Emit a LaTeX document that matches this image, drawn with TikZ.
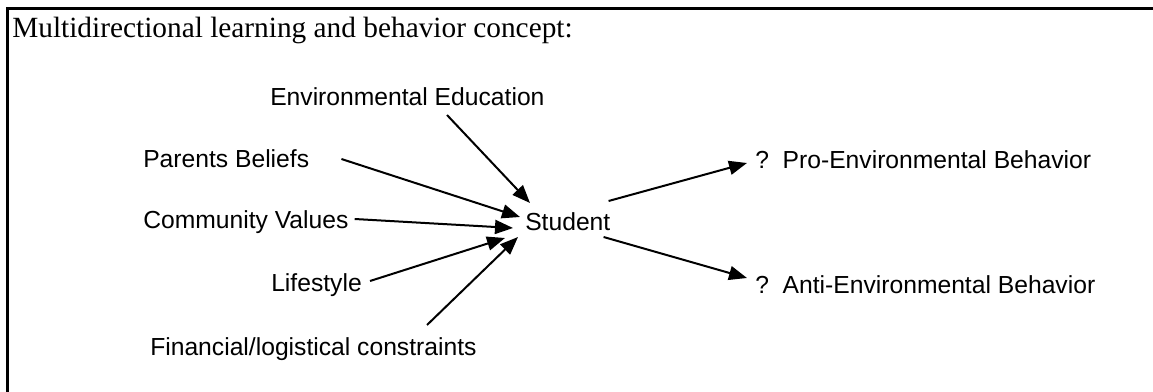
\documentclass[tikz,border=0pt]{standalone}
\usepackage{fontspec}
\setmainfont{Liberation Serif}
\setsansfont{Liberation Sans}
\usetikzlibrary{arrows.meta}

\tikzset{
	lbl/.style={anchor=west, inner sep=0pt, font=\sffamily\fontsize{18.5}{22}\selectfont},
	arr/.style={line width=1.5pt, -{Triangle[length=13.5pt,width=10.5pt]}}
}

\begin{document}
\begin{tikzpicture}[x=0.75pt, y=-0.75pt]
	
	\useasboundingbox (0,0) rectangle (1153,392);
	
	% frame
	\draw[line width=2.25pt] (7.5,392) -- (7.5,8.5) -- (1153,8.5);
	
	\node[anchor=west, inner sep=0pt, font=\fontsize{22}{26}\selectfont] (title) at (12,30) {Multidirectional learning and behavior concept:};
	
	\node[lbl] (env) at (270,97)   {Environmental Education};
	\node[lbl] (par) at (143,159)  {Parents Beliefs};
	\node[lbl] (com) at (143,222)  {Community Values};
	\node[lbl] (life) at (271,285) {Lifestyle};
	\node[lbl] (fin) at (150,349)  {Financial/logistical constraints};
	
	\node[lbl] (stu) at (525,222)  {Student};
	
	\node[lbl] (pro) at (755,160)  {?\ \ Pro-Environmental Behavior};
	\node[lbl] (anti) at (755,285) {?\ \ Anti-Environmental Behavior};
	
	\draw[arr] ([shift={(177,18)}]env.west) -- ([shift={(5,-19)}]stu.west);
	\draw[arr] ([shift={(32,0)}]par.east) -- ([shift={(-5,-5)}]stu.west);
	\draw[arr] ([shift={(6,-3)}]com.east) -- ([shift={(-12,6)}]stu.west);
	\draw[arr] ([shift={(8,-4)}]life.east) -- ([shift={(-20,16)}]stu.west);
	\draw[arr] ([shift={(277,-24)}]fin.west) -- ([shift={(-7,15)}]stu.west);
	
	\draw[arr] ([shift={(-2,-21)}]stu.east) -- ([shift={(-8,3)}]pro.west);
	\draw[arr] ([shift={(-7,15)}]stu.east) -- ([shift={(-8,-7)}]anti.west);
	
\end{tikzpicture}
\end{document}
